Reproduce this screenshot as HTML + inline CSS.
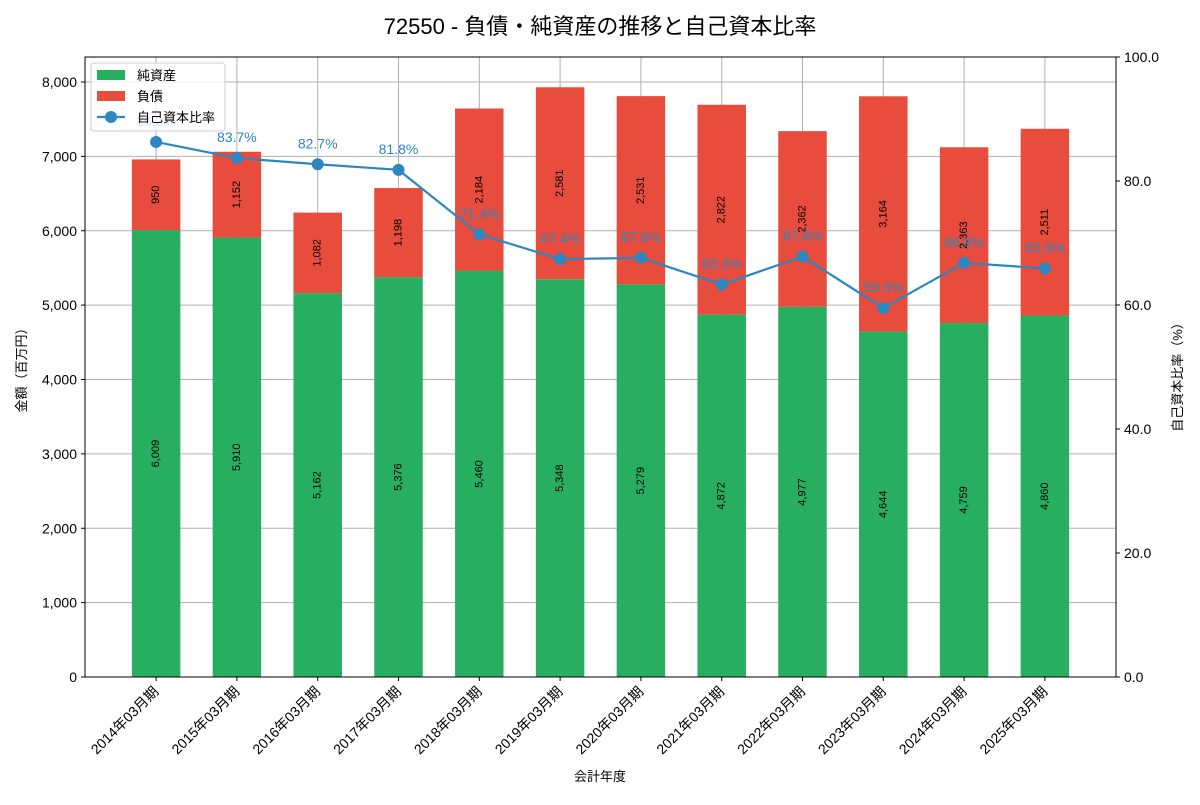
<!DOCTYPE html>
<html><head><meta charset="utf-8"><style>
body{margin:0;background:#fff;font-family:"Liberation Sans","Noto Sans CJK JP",sans-serif}
</style></head><body>
<svg id="c" width="1200" height="800" xmlns="http://www.w3.org/2000/svg" font-family="Liberation Sans, Noto Sans CJK JP, sans-serif"></svg>
<script>
const categories=["2014年03月期","2015年03月期","2016年03月期","2017年03月期","2018年03月期","2019年03月期","2020年03月期","2021年03月期","2022年03月期","2023年03月期","2024年03月期","2025年03月期"];
const netAssets=[6009,5910,5162,5376,5460,5348,5279,4872,4977,4644,4759,4860];
const liabilities=[950,1152,1082,1198,2184,2581,2531,2822,2362,3164,2363,2511];
const ratio=[86.3,83.7,82.7,81.8,71.4,67.4,67.6,63.3,67.8,59.5,66.8,65.9];
const leftTicks=[0,1000,2000,3000,4000,5000,6000,7000,8000];
const rightTicks=[0,20,40,60,80,100];

const NS="http://www.w3.org/2000/svg";
const svg=document.getElementById('c');
const L=85,R=1116,T=57,B=677;
const xmin=-0.88,xmax=11.88;
const X=i=>L+(i-xmin)/(xmax-xmin)*(R-L);
const Y=v=>B-v*(B-82)/8000;
const Y2=v=>B-v/100*(B-T);
function el(tag,attrs,parent){const e=document.createElementNS(NS,tag);for(const k in attrs)e.setAttribute(k,attrs[k]);(parent||svg).appendChild(e);return e;}
function txt(s,attrs,parent){const e=el('text',attrs,parent);e.textContent=s;return e;}

const grid=el('g',{});


leftTicks.forEach(v=>el('line',{x1:L,x2:R,y1:Y(v),y2:Y(v),stroke:'#b0b0b0','stroke-width':1},grid));
categories.forEach((c,i)=>el('line',{x1:X(i),x2:X(i),y1:T,y2:B,stroke:'#b0b0b0','stroke-width':1},grid));

const bw=0.6*(R-L)/(xmax-xmin);
categories.forEach((c,i)=>{
  const g=el('g',{});
  
  
  const y0=Y(0),y1=Y(netAssets[i]),y2=Y(netAssets[i]+liabilities[i]);
  el('rect',{x:X(i)-bw/2,y:y1,width:bw,height:y0-y1,fill:'#27ae60'},g);
  el('rect',{x:X(i)-bw/2,y:y2,width:bw,height:y1-y2,fill:'#e74c3c'},g);
  const m1=(y0+y1)/2,m2=(y1+y2)/2;
  txt(netAssets[i].toLocaleString('en-US'),{x:X(i),y:m1,transform:`rotate(-90 ${X(i)} ${m1})`,'text-anchor':'middle','dominant-baseline':'central','font-size':11},g);
  txt(liabilities[i].toLocaleString('en-US'),{x:X(i),y:m2,transform:`rotate(-90 ${X(i)} ${m2})`,'text-anchor':'middle','dominant-baseline':'central','font-size':11},g);
});

const line=el('g',{});


el('polyline',{points:ratio.map((r,i)=>X(i)+','+Y2(r)).join(' '),fill:'none',stroke:'#2e86c1','stroke-width':2.2},line);
ratio.forEach((r,i)=>{
  el('circle',{cx:X(i),cy:Y2(r),r:6,fill:'#2e86c1'},line);
  txt(r.toFixed(1)+'%',{x:X(i),y:Y2(r)-16,'text-anchor':'middle','font-size':14,fill:'#2e86c1'},line);
});

el('rect',{x:L,y:T,width:R-L,height:B-T,fill:'none',stroke:'#000','stroke-width':1});

leftTicks.forEach(v=>{el('line',{x1:L-4,x2:L,y1:Y(v),y2:Y(v),stroke:'#000'});
  txt(v.toLocaleString('en-US'),{x:L-8,y:Y(v)+5,'text-anchor':'end','font-size':14});});
rightTicks.forEach(v=>{el('line',{x1:R,x2:R+4,y1:Y2(v),y2:Y2(v),stroke:'#000'});
  txt(v.toFixed(1),{x:R+8,y:Y2(v)+5,'font-size':14});});
categories.forEach((c,i)=>{el('line',{x1:X(i),x2:X(i),y1:B,y2:B+4,stroke:'#000'});
  const tx=X(i)-4,ty=B+8;
  txt(c,{x:tx,y:ty,transform:`rotate(-45 ${tx} ${ty})`,'text-anchor':'end','dominant-baseline':'hanging','font-size':14});});

txt('72550 - 負債・純資産の推移と自己資本比率',{x:600,y:34,'text-anchor':'middle','font-size':22,});
txt('会計年度',{x:600,y:781,'text-anchor':'middle','font-size':13,});
txt('金額（百万円）',{x:26,y:367,transform:'rotate(-90 26 367)','text-anchor':'middle','font-size':13,});
txt('自己資本比率（%）',{x:1182,y:374,transform:'rotate(-90 1182 374)','text-anchor':'middle','font-size':13,});

const lg=el('g',{});


el('rect',{x:91,y:63,width:134,height:68,fill:'#fff','fill-opacity':0.8,stroke:'#ccc',rx:3},lg);
el('rect',{x:97,y:70,width:28,height:10,fill:'#27ae60'},lg);
txt('純資産',{x:137,y:80,'font-size':13},lg);
el('rect',{x:97,y:91,width:28,height:10,fill:'#e74c3c'},lg);
txt('負債',{x:137,y:101,'font-size':13},lg);
el('line',{x1:97,x2:125,y1:117,y2:117,stroke:'#2e86c1','stroke-width':2.2},lg);
el('circle',{cx:111,cy:117,r:6,fill:'#2e86c1'},lg);
txt('自己資本比率',{x:137,y:122,'font-size':13},lg);
</script>
</body></html>
